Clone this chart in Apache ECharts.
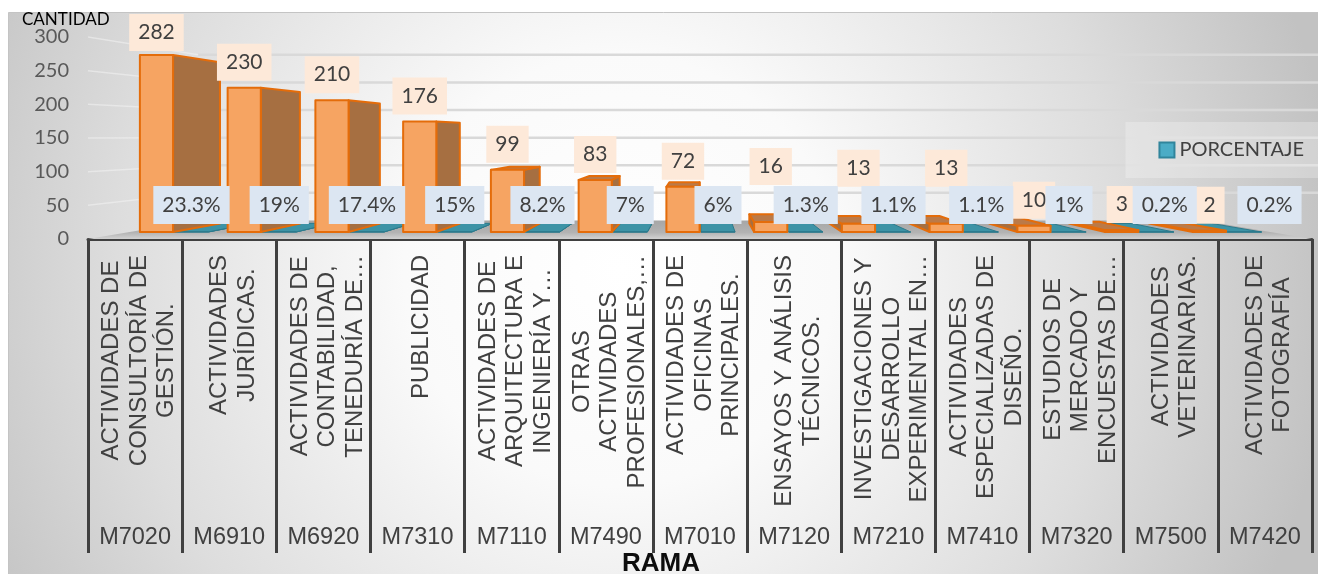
<!DOCTYPE html>
<html>
<head>
<meta charset="utf-8">
<script src="https://cdn.jsdelivr.net/npm/echarts@6/dist/echarts.min.js"></script>
<style>
  html, body { margin: 0; padding: 0; background: #ffffff; }
  #chart { width: 1318px; height: 574px; }
</style>
</head>
<body>
<div id="chart"></div>
<script>
// Branch codes (lower row of the category axis)
const codigos = ['M7020', 'M6910', 'M6920', 'M7310', 'M7110', 'M7490', 'M7010',
                 'M7120', 'M7210', 'M7410', 'M7320', 'M7500', 'M7420'];

// Branch descriptions as they are wrapped on the axis
const ramas = [
  'ACTIVIDADES DE\nCONSULTORÍA DE\nGESTIÓN.',
  'ACTIVIDADES\nJURÍDICAS.',
  'ACTIVIDADES DE\nCONTABILIDAD,\nTENEDURÍA DE…',
  'PUBLICIDAD',
  'ACTIVIDADES DE\nARQUITECTURA E\nINGENIERÍA Y…',
  'OTRAS\nACTIVIDADES\nPROFESIONALES,…',
  'ACTIVIDADES DE\nOFICINAS\nPRINCIPALES.',
  'ENSAYOS Y ANÁLISIS\nTÉCNICOS.',
  'INVESTIGACIONES Y\nDESARROLLO\nEXPERIMENTAL EN…',
  'ACTIVIDADES\nESPECIALIZADAS DE\nDISEÑO.',
  'ESTUDIOS DE\nMERCADO Y\nENCUESTAS DE…',
  'ACTIVIDADES\nVETERINARIAS.',
  'ACTIVIDADES DE\nFOTOGRAFÍA'
];

const cantidad = [282, 230, 210, 176, 99, 83, 72, 16, 13, 13, 10, 3, 2];
const porcentaje = [23.3, 19, 17.4, 15, 8.2, 7, 6, 1.3, 1.1, 1.1, 1, 0.2, 0.2];
const yTicks = [0, 50, 100, 150, 200, 250, 300];

// Extra label nudges (px) so that neighbouring boxes do not collide
const cantidadLabelLift = [0, 0, 0, 0, 0, 0, 0, 30, 30, 30, 0, 0, 0];
const porcentajeLabelShift = [0, 0, 0, 0, 0, 0, 0, 0, 0, 0, 0, 8, 25];

// Simple one-point perspective for the pseudo-3D box
const DEPTH_FRONT = 0.068;   // front face of the columns
const DEPTH_BACK = 0.151;    // back face of the columns
const DEPTH_WALL = 0.18;     // back wall of the plot box

function vanishing(cs) {
  return [cs.x + cs.width / 2, cs.y + cs.height * 0.49];
}
function proj(p, t, vp) {
  return [vp[0] + (1 - t) * (p[0] - vp[0]), vp[1] + (1 - t) * (p[1] - vp[1])];
}

// Builds the visible faces of one column in perspective
function columnFaces(api, cs, i, v, fromFrac, toFrac, look) {
  const vp = vanishing(cs);
  const band = api.size([1, 0])[0];
  const base = api.coord([i, 0]);
  const top = api.coord([i, v]);
  const x0 = base[0] + fromFrac * band;
  const x1 = base[0] + toFrac * band;
  const y0 = base[1];
  const y1 = top[1];
  const F = (x, y) => proj([x, y], DEPTH_FRONT, vp);
  const B = (x, y) => proj([x, y], DEPTH_BACK, vp);
  const edge = { stroke: look.edge, lineWidth: look.edgeWidth, lineJoin: 'round' };
  const children = [];
  const sx = x1 < vp[0] ? x1 : (x0 > vp[0] ? x0 : null);
  if (sx !== null) {
    children.push({
      type: 'polygon',
      shape: { points: [F(sx, y0), F(sx, y1), B(sx, y1), B(sx, y0)] },
      style: Object.assign({ fill: look.side }, edge)
    });
  }
  if (y1 > vp[1]) {
    children.push({
      type: 'polygon',
      shape: { points: [F(x0, y1), F(x1, y1), B(x1, y1), B(x0, y1)] },
      style: Object.assign({ fill: look.top }, edge)
    });
  }
  children.push({
    type: 'polygon',
    shape: { points: [F(x0, y0), F(x1, y0), F(x1, y1), F(x0, y1)] },
    style: Object.assign({ fill: look.front }, edge)
  });
  return {
    children: children,
    frontTop: F((x0 + x1) / 2, y1),
    frontBase: F((x0 + x1) / 2, y0)
  };
}

const orangeLook = { front: '#F6A462', side: '#A66F41', top: '#BB7A48', edge: '#E46C0A', edgeWidth: 2 };
const tealLook = { front: '#3D93A6', side: '#2E7F91', top: '#3D93A6', edge: '#2C7A8C', edgeWidth: 1 };
const ORANGE_FROM = -0.383, ORANGE_TO = -0.005;
const TEAL_FROM = 0.01, TEAL_TO = 0.40;

const chart = echarts.init(document.getElementById('chart'), null, { renderer: 'canvas' });

const option = {
  animation: false,
  graphic: [{
    type: 'rect',
    z: -100,
    silent: true,
    shape: { x: 8.5, y: 12.5, width: 1320, height: 570 },
    style: {
      fill: new echarts.graphic.RadialGradient(620, 270, 720, [
        { offset: 0, color: '#ffffff' },
        { offset: 0.3, color: '#fafafa' },
        { offset: 0.7, color: '#dddddd' },
        { offset: 1, color: '#c2c2c2' }
      ], true),
      stroke: '#c4c4c4',
      lineWidth: 1
    }
  }],
  title: [
    {
      text: 'CANTIDAD', left: 22, top: 11, padding: 0,
      textStyle: { fontFamily: 'Lato', fontSize: 17, fontWeight: 'normal', color: '#000000' }
    },
    {
      text: 'RAMA', left: 622, top: 551, padding: 0,
      textStyle: { fontFamily: 'Liberation Sans', fontSize: 26, fontWeight: 'bold', color: '#0d0d0d' }
    }
  ],
  legend: {
    data: [{ name: 'PORCENTAJE', itemStyle: { color: '#4BACC6', borderColor: '#31859C', borderWidth: 2 } }],
    right: 0,
    top: 122,
    icon: 'rect',
    itemWidth: 15,
    itemHeight: 15,
    padding: [18, 14, 18, 33],
    backgroundColor: 'rgba(255,255,255,0.25)',
    textStyle: { fontFamily: 'Lato', fontSize: 20, color: '#404040' }
  },
  grid: [{ left: 88, right: 6, top: 37, bottom: 335, outerBoundsMode: 'none', containLabel: false }],
  xAxis: [
    {
      type: 'category',
      gridIndex: 0,
      data: ramas,
      position: 'bottom',
      axisLine: { show: true, lineStyle: { color: '#404040', width: 3 } },
      axisTick: { show: true, interval: 0, length: 314, lineStyle: { color: '#404040', width: 3 } },
      splitLine: { show: false },
      axisLabel: {
        interval: 0,
        rotate: 90,
        margin: 16,
        hideOverlap: false,
        padding: [8, 0, 0, 0],
        fontFamily: 'Liberation Sans',
        fontSize: 24,
        lineHeight: 27.5,
        color: '#404040',
        formatter: function (s) {
          return s.split('\n').map(function (l) { return '{c|' + l + '}'; }).join('\n');
        },
        rich: {
          c: { align: 'center', fontFamily: 'Liberation Sans', fontSize: 24, lineHeight: 27.5, color: '#404040' }
        }
      }
    },
    {
      type: 'category',
      gridIndex: 0,
      data: codigos,
      position: 'bottom',
      offset: 0,
      axisLine: { show: false },
      axisTick: { show: false },
      splitLine: { show: false },
      axisLabel: {
        interval: 0,
        margin: 287,
        hideOverlap: false,
        fontFamily: 'Liberation Sans',
        fontSize: 23.5,
        lineHeight: 24,
        color: '#404040'
      }
    }
  ],
  yAxis: [{
    type: 'value',
    gridIndex: 0,
    min: 0,
    max: 300,
    interval: 50,
    axisLine: { show: false },
    axisTick: { show: false },
    splitLine: { show: false },
    axisLabel: { margin: 19, fontFamily: 'Lato', fontSize: 20, color: '#595959' }
  }],
  series: [
    {
      // floor, left wall and back-wall gridlines
      type: 'custom',
      name: 'marco',
      silent: true,
      z: 1,
      xAxisIndex: 0,
      yAxisIndex: 0,
      data: yTicks.map(function (v) { return [0, v]; }),
      encode: { x: 0, y: 1 },
      renderItem: function (params, api) {
        const cs = params.coordSys;
        const vp = vanishing(cs);
        const v = api.value(1);
        const y = api.coord([0, v])[1];
        const front = [cs.x, y];
        const back = proj(front, DEPTH_WALL, vp);
        const children = [];
        if (v === 0) {
          const fr = [cs.x + cs.width, y];
          children.push({
            type: 'polygon',
            shape: { points: [front, fr, proj(fr, DEPTH_WALL, vp), back] },
            style: {
              fill: new echarts.graphic.LinearGradient(0, 0, 0, 1, [
                { offset: 0, color: '#a6a6a6' },
                { offset: 0.65, color: '#b3b3b3' },
                { offset: 1, color: '#d2d2d2' }
              ])
            }
          });
        } else {
          children.push({
            type: 'line',
            shape: { x1: back[0], y1: back[1], x2: cs.x + cs.width + 6, y2: back[1] },
            style: { stroke: '#d9d9d9', lineWidth: 2.5 }
          });
          children.push({
            type: 'line',
            shape: { x1: front[0], y1: front[1], x2: back[0], y2: back[1] },
            style: { stroke: 'rgba(245,245,245,0.5)', lineWidth: 1.5 }
          });
        }
        return { type: 'group', children: children };
      }
    },
    {
      // percentage slabs lying on the floor
      type: 'custom',
      name: 'PORCENTAJE',
      z: 2,
      xAxisIndex: 0,
      yAxisIndex: 0,
      itemStyle: { color: '#4BACC6', borderColor: '#31859C' },
      data: porcentaje.map(function (v, i) { return [i, v / 100]; }),
      encode: { x: 0, y: 1 },
      renderItem: function (params, api) {
        const i = api.value(0), v = api.value(1);
        const f = columnFaces(api, params.coordSys, i, v, TEAL_FROM, TEAL_TO, tealLook);
        return { type: 'group', children: f.children };
      }
    },
    {
      // quantity columns with their value boxes
      type: 'custom',
      name: 'CANTIDAD',
      z: 3,
      xAxisIndex: 0,
      yAxisIndex: 0,
      itemStyle: { color: '#F6A462', borderColor: '#E46C0A' },
      data: cantidad.map(function (v, i) { return [i, v]; }),
      encode: { x: 0, y: 1 },
      renderItem: function (params, api) {
        const i = api.value(0), v = api.value(1);
        const cs = params.coordSys;
        const f = columnFaces(api, cs, i, v, ORANGE_FROM, ORANGE_TO, orangeLook);
        const bottom = Math.max(f.frontTop[1] - 7, cs.y + 14) - cantidadLabelLift[i];
        f.children.push({
          type: 'text',
          z2: 50,
          style: {
            text: String(v),
            x: f.frontTop[0],
            y: bottom,
            align: 'center',
            verticalAlign: 'bottom',
            font: '21px Lato',
            fill: '#404040',
            backgroundColor: '#FDE9D9',
            padding: [8, 9]
          }
        });
        return { type: 'group', children: f.children };
      }
    },
    {
      // percentage value boxes, kept above everything else
      type: 'custom',
      name: 'PORCENTAJE',
      z: 4,
      xAxisIndex: 0,
      yAxisIndex: 0,
      itemStyle: { color: '#4BACC6', borderColor: '#31859C' },
      data: porcentaje.map(function (v, i) { return [i, v / 100]; }),
      encode: { x: 0, y: 1 },
      renderItem: function (params, api) {
        const i = api.value(0);
        const band = api.size([1, 0])[0];
        const vp = vanishing(params.coordSys);
        const base = api.coord([i, 0]);
        const cx = base[0] + (TEAL_FROM + TEAL_TO) / 2 * band;
        const p = proj([cx, base[1]], DEPTH_FRONT, vp);
        return {
          type: 'text',
          z2: 60,
          style: {
            text: porcentaje[i] + '%',
            x: p[0] + porcentajeLabelShift[i],
            y: p[1] - 8,
            align: 'center',
            verticalAlign: 'bottom',
            font: '21px Lato',
            fill: '#404040',
            backgroundColor: '#DCE6F2',
            padding: [8.5, 9]
          }
        };
      }
    }
  ]
};

chart.setOption(option);
</script>
</body>
</html>
